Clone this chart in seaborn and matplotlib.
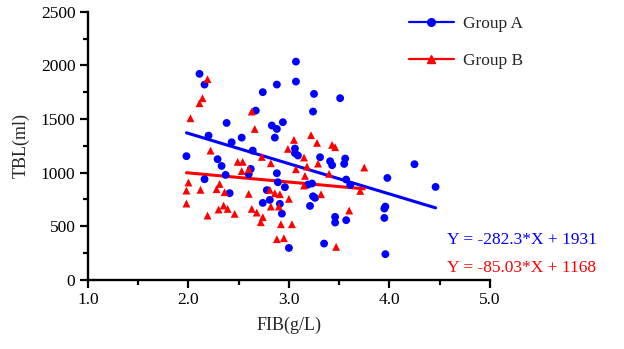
import numpy as np
import pandas as pd
import matplotlib
matplotlib.use("Agg")
import matplotlib.pyplot as plt
from matplotlib.lines import Line2D
from matplotlib.ticker import MultipleLocator, FormatStrFormatter
import seaborn as sns

# ---- data ----
group_a_fib = [2.11, 2.16, 2.74, 2.67, 2.38, 2.83, 2.20, 2.43, 2.53, 2.64, 2.86, 1.98,
               2.29, 2.33, 2.62, 3.07, 2.88, 3.07, 3.25, 3.51, 3.24, 2.94, 2.88, 3.06,
               3.06, 3.09, 3.31, 3.41, 3.43, 3.56, 3.55, 4.25, 4.46, 3.98, 3.96, 3.95,
               3.95, 3.96, 2.16, 2.37, 2.60, 2.41, 2.78, 2.81, 2.74, 2.88, 2.89, 2.96,
               2.91, 2.93, 3.00, 3.19, 3.23, 3.24, 3.26, 3.21, 3.57, 3.61, 3.46, 3.46,
               3.57, 3.35]
group_a_tbl = [1922, 1822, 1751, 1579, 1464, 1440, 1346, 1284, 1327, 1206, 1327, 1154,
               1126, 1063, 1035, 2036, 1822, 1850, 1735, 1695, 1570, 1471, 1408, 1225,
               1182, 1160, 1144, 1107, 1070, 1132, 1082, 1079, 867, 951, 684, 665,
               578, 240, 939, 979, 986, 809, 837, 746, 718, 995, 911, 865,
               709, 618, 298, 889, 899, 780, 765, 690, 936, 886, 588, 535,
               557, 339]

group_b_fib = [2.19, 2.14, 2.11, 2.02, 2.63, 2.66, 2.22, 2.73, 2.49, 2.54, 3.05, 2.99,
               2.82, 3.22, 3.28, 3.43, 3.46, 3.15, 3.29, 3.18, 3.07, 3.75, 2.00, 1.98,
               1.98, 2.12, 2.31, 2.28, 2.36, 2.60, 2.30, 2.35, 2.39, 2.19, 2.46, 2.63,
               2.68, 2.74, 2.72, 2.53, 2.60, 2.82, 2.81, 2.88, 3.16, 3.15, 3.40, 3.71,
               2.86, 2.91, 3.00, 2.90, 3.32, 3.60, 2.92, 3.03, 2.95, 3.47]
group_b_tbl = [1872, 1695, 1648, 1508, 1570, 1408, 1206, 1147, 1101, 1101, 1306, 1222,
               1088, 1350, 1278, 1259, 1238, 1141, 1085, 1057, 1032, 1048, 908, 833,
               712, 840, 895, 846, 818, 802, 656, 693, 662, 600, 616, 662,
               628, 585, 538, 1015, 1032, 684, 840, 380, 970, 880, 989, 830,
               808, 799, 756, 684, 799, 647, 519, 519, 389, 308]

groups = ["Group A", "Group B"]
slopes = [-282.3, -85.03]
intercepts = [1931, 1168]
equations = ["Y = -282.3*X + 1931", "Y = -85.03*X + 1168"]
colors = ["#0000FF", "#FF0000"]
markers = ["o", "^"]

x_ticks = [1.0, 2.0, 3.0, 4.0, 5.0]
y_ticks = [0, 500, 1000, 1500, 2000, 2500]

# ---- build tables ----
df = pd.concat([
    pd.DataFrame({"FIB": group_a_fib, "TBL": group_a_tbl, "group": groups[0]}),
    pd.DataFrame({"FIB": group_b_fib, "TBL": group_b_tbl, "group": groups[1]}),
], ignore_index=True)

fit_rows = []
for g, m, b in zip(groups, slopes, intercepts):
    sub = df[df["group"] == g]
    for xv in (sub["FIB"].min(), sub["FIB"].max()):
        fit_rows.append({"FIB": xv, "TBL": m * xv + b, "group": g})
fit = pd.DataFrame(fit_rows)

# ---- plot ----
sns.set_style("ticks")
plt.rcParams["font.family"] = ["Liberation Serif", "DejaVu Serif"]

fig = plt.figure(figsize=(6.24, 3.49), dpi=100)
ax = fig.add_axes([0.141, 0.198, 0.644, 0.768])

palette = dict(zip(groups, colors))
sns.scatterplot(data=df, x="FIB", y="TBL", hue="group", style="group",
                palette=palette, markers=dict(zip(groups, markers)),
                s=32, linewidth=0, ax=ax, legend=False, zorder=3)
sns.lineplot(data=fit, x="FIB", y="TBL", hue="group", palette=palette,
             linewidth=2.2, ax=ax, legend=False, zorder=2)

ax.set_xlim(1.0, 5.0)
ax.set_ylim(0, 2500)
ax.set_xticks(x_ticks)
ax.set_yticks(y_ticks)
ax.xaxis.set_major_formatter(FormatStrFormatter("%.1f"))
ax.xaxis.set_minor_locator(MultipleLocator(0.5))
ax.yaxis.set_minor_locator(MultipleLocator(250))
ax.tick_params(axis="both", which="major", length=6, width=1.6, labelsize=12.5,
               color="black", labelcolor="black", pad=3)
ax.tick_params(axis="both", which="minor", length=3.5, width=1.6, color="black")
for side in ["top", "right"]:
    ax.spines[side].set_visible(False)
for side in ["left", "bottom"]:
    ax.spines[side].set_linewidth(1.7)
    ax.spines[side].set_color("black")

ax.set_xlabel("FIB(g/L)", fontsize=13, labelpad=6)
ax.set_ylabel("TBL(ml)", fontsize=13, labelpad=8)

handles = [Line2D([0], [0], color=c, marker=mk, markersize=5.5, linewidth=1.6)
           for c, mk in zip(colors, markers)]
fig.legend(handles, groups, loc="upper left", bbox_to_anchor=(0.63, 1.0),
           frameon=False, fontsize=12.5, handlelength=2.6, labelspacing=1.2,
           handletextpad=0.5)

for i, (eq, c) in enumerate(zip(equations, colors)):
    fig.text(0.717, 0.313 - i * 0.082, eq, color=c, fontsize=12.5,
             ha="left", va="center")

fig.savefig("out.png", dpi=100)
